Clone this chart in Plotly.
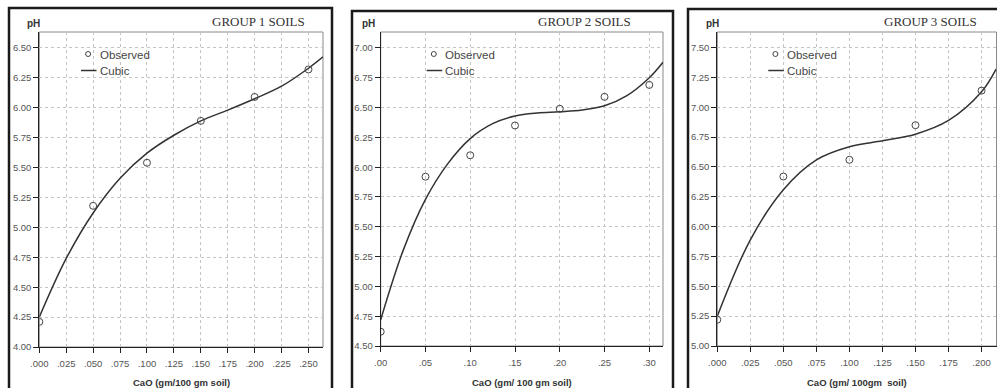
import plotly.graph_objects as go

W, H = 997, 388

# ---------------- data ----------------
g1_obs_x = [0.000, 0.050, 0.100, 0.150, 0.200, 0.250]
g1_obs_y = [4.21, 5.18, 5.54, 5.89, 6.09, 6.32]
g1_fit_x = [0.000, 0.025, 0.050, 0.075, 0.100, 0.125, 0.150, 0.175, 0.200, 0.225, 0.250, 0.2635]
g1_fit_y = [4.25, 4.74, 5.12, 5.41, 5.62, 5.77, 5.89, 5.98, 6.075, 6.18, 6.33, 6.425]
g1_xticks = [0.000, 0.025, 0.050, 0.075, 0.100, 0.125, 0.150, 0.175, 0.200, 0.225, 0.250]
g1_xlabels = [".000", ".025", ".050", ".075", ".100", ".125", ".150", ".175", ".200", ".225", ".250"]
g1_yticks = [4.00, 4.25, 4.50, 4.75, 5.00, 5.25, 5.50, 5.75, 6.00, 6.25, 6.50]

g2_obs_x = [0.00, 0.05, 0.10, 0.15, 0.20, 0.25, 0.30]
g2_obs_y = [4.62, 5.92, 6.10, 6.35, 6.49, 6.59, 6.69]
g2_fit_x = [0.000, 0.025, 0.050, 0.075, 0.100, 0.125, 0.150, 0.175, 0.200, 0.225, 0.250, 0.275, 0.300, 0.3153]
g2_fit_y = [4.72, 5.30, 5.73, 6.03, 6.24, 6.365, 6.43, 6.455, 6.465, 6.48, 6.515, 6.60, 6.75, 6.88]
g2_xticks = [0.00, 0.05, 0.10, 0.15, 0.20, 0.25, 0.30]
g2_xlabels = [".00", ".05", ".10", ".15", ".20", ".25", ".30"]
g2_yticks = [4.50, 4.75, 5.00, 5.25, 5.50, 5.75, 6.00, 6.25, 6.50, 6.75, 7.00]

g3_obs_x = [0.000, 0.050, 0.100, 0.150, 0.200]
g3_obs_y = [5.22, 6.42, 6.56, 6.85, 7.14]
g3_fit_x = [0.000, 0.025, 0.050, 0.075, 0.100, 0.125, 0.150, 0.175, 0.200, 0.211]
g3_fit_y = [5.25, 5.89, 6.31, 6.56, 6.67, 6.72, 6.775, 6.89, 7.13, 7.32]
g3_xticks = [0.000, 0.025, 0.050, 0.075, 0.100, 0.125, 0.150, 0.175, 0.200]
g3_xlabels = [".000", ".025", ".050", ".075", ".100", ".125", ".150", ".175", ".200"]
g3_yticks = [5.00, 5.25, 5.50, 5.75, 6.00, 6.25, 6.50, 6.75, 7.00, 7.25, 7.50]

titles = ["GROUP 1 SOILS", "GROUP 2 SOILS", "GROUP 3 SOILS"]
xtitles = ["CaO (gm/100 gm soil)", "CaO (gm/ 100 gm soil)", "CaO (gm/ 100gm\u00a0 soil)"]

# ---------------- layout geometry (pixels) ----------------
panels = [
    dict(obs_x=g1_obs_x, obs_y=g1_obs_y, fit_x=g1_fit_x, fit_y=g1_fit_y,
         xt=g1_xticks, xl=g1_xlabels, yt=g1_yticks,
         px=(39.3, 323.0), py=(32.0, 347.0), xr=[0, 0.2635], yr=[4.0, 6.633],
         frame=(9, 8, 332, 400), title_r=307, ph_x=25, leg_x=81),
    dict(obs_x=g2_obs_x, obs_y=g2_obs_y, fit_x=g2_fit_x, fit_y=g2_fit_y,
         xt=g2_xticks, xl=g2_xlabels, yt=g2_yticks,
         px=(380.7, 663.0), py=(32.0, 346.0), xr=[0, 0.3153], yr=[4.5, 7.134],
         frame=(352, 11, 673, 400), title_r=633, ph_x=360, leg_x=426.7),
    dict(obs_x=g3_obs_x, obs_y=g3_obs_y, fit_x=g3_fit_x, fit_y=g3_fit_y,
         xt=g3_xticks, xl=g3_xlabels, yt=g3_yticks,
         px=(717.3, 996.5), py=(32.0, 346.0), xr=[0, 0.2113], yr=[5.0, 7.631],
         frame=(688, 9, 1005, 400), title_r=979, ph_x=704, leg_x=768.3),
]

def fx(p):
    return p / W

def fy(p):
    return 1 - p / H

fig = go.Figure()
shapes = []
annotations = []

tick_font = dict(family="Liberation Sans, Arial, sans-serif", size=9.5, color="#555555")
grid_col = "#c4c4c4"

for i, P in enumerate(panels):
    n = "" if i == 0 else str(i + 1)
    xa, ya = "x" + n, "y" + n
    fig.add_trace(go.Scatter(
        x=P["fit_x"], y=P["fit_y"], mode="lines", xaxis=xa, yaxis=ya,
        line=dict(color="#333333", width=1.5, shape="spline", smoothing=1.0),
        showlegend=False, hoverinfo="skip"))
    fig.add_trace(go.Scatter(
        x=P["obs_x"], y=P["obs_y"], mode="markers", xaxis=xa, yaxis=ya,
        marker=dict(symbol="circle-open", size=7, color="#444444", line=dict(width=1)),
        showlegend=False))

    common = dict(showgrid=True, gridcolor=grid_col, griddash="dot", gridwidth=1,
                  zeroline=False, showline=True, linecolor="#222222", linewidth=1,
                  ticks="outside", ticklen=5, tickcolor="#222222", tickwidth=1,
                  tickfont=tick_font, fixedrange=True, automargin=False)
    fig.update_layout(**{
        "xaxis" + n: dict(domain=[fx(P["px"][0]), fx(P["px"][1])], range=P["xr"],
                          anchor=ya, tickmode="array", tickvals=P["xt"], ticktext=P["xl"],
                          ticklabelstandoff=3, **common),
        "yaxis" + n: dict(domain=[fy(P["py"][1]), fy(P["py"][0])], range=P["yr"],
                          anchor=xa, tickmode="array", tickvals=P["yt"],
                          ticktext=["%.2f" % v for v in P["yt"]], **common),
    })

    # plot-area gray border
    shapes.append(dict(type="rect", xref=xa + " domain", yref=ya + " domain",
                       x0=0, x1=1, y0=0, y1=1, line=dict(color="#8a8a8a", width=1),
                       layer="below"))
    # outer panel frame
    f = P["frame"]
    shapes.append(dict(type="rect", xref="paper", yref="paper",
                       x0=fx(f[0]), x1=fx(f[2]), y0=fy(f[3]), y1=fy(f[1]),
                       line=dict(color="#1a1a1a", width=2.5)))
    # title
    annotations.append(dict(text=titles[i], xref="paper", yref="paper",
                            x=fx(P["title_r"]), y=fy(21), xanchor="right", yanchor="middle",
                            showarrow=False,
                            font=dict(family="Liberation Serif, Times New Roman, serif",
                                      size=13, color="#333333")))
    # pH label
    annotations.append(dict(text="<b>pH</b>", xref="paper", yref="paper",
                            x=fx(P["ph_x"]), y=fy(23), xanchor="left", yanchor="middle",
                            showarrow=False,
                            font=dict(family="Liberation Sans, Arial, sans-serif",
                                      size=10, color="#333333")))
    # x title
    annotations.append(dict(text="<b>" + xtitles[i] + "</b>", xref="paper", yref="paper",
                            x=fx((P["px"][0] + P["px"][1]) / 2), y=fy(382),
                            xanchor="center", yanchor="middle", showarrow=False,
                            font=dict(family="Liberation Sans, Arial, sans-serif",
                                      size=9.5, color="#333333")))
    # manual legend
    lx = P["leg_x"]
    shapes.append(dict(type="circle", xref="paper", yref="paper",
                       x0=fx(lx + 4.6), x1=fx(lx + 9.6), y0=fy(56.5), y1=fy(51.5),
                       line=dict(color="#444444", width=1)))
    shapes.append(dict(type="line", xref="paper", yref="paper",
                       x0=fx(lx), x1=fx(lx + 15.5), y0=fy(70.5), y1=fy(70.5),
                       line=dict(color="#333333", width=1.5)))
    annotations.append(dict(text="Observed", xref="paper", yref="paper",
                            x=fx(lx + 16.5), y=fy(55), xanchor="left", yanchor="middle",
                            showarrow=False,
                            font=dict(family="Liberation Sans, Arial, sans-serif",
                                      size=11.5, color="#444444")))
    annotations.append(dict(text="Cubic", xref="paper", yref="paper",
                            x=fx(lx + 16.5), y=fy(70.5), xanchor="left", yanchor="middle",
                            showarrow=False,
                            font=dict(family="Liberation Sans, Arial, sans-serif",
                                      size=11.5, color="#444444")))

fig.update_layout(width=W, height=H, autosize=False,
                  margin=dict(l=0, r=0, t=0, b=0, pad=0, autoexpand=False),
                  paper_bgcolor="white", plot_bgcolor="white",
                  shapes=shapes, annotations=annotations, showlegend=False)

fig.write_html("out.html", config={"displayModeBar": False},
               post_script="document.body.style.margin='0';document.body.style.overflow='hidden';")
